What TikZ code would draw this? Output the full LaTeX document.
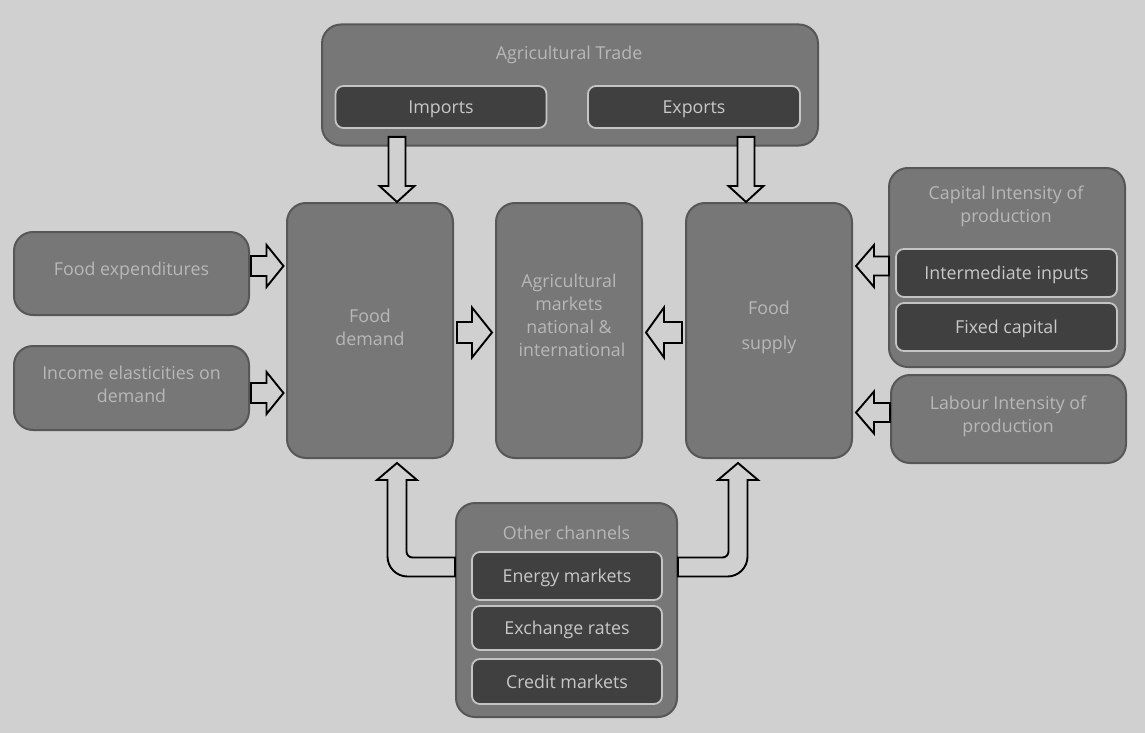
\documentclass[tikz,border=0pt]{standalone}
\usepackage{fontspec}
\setmainfont{Open Sans}
\usetikzlibrary{calc}
\definecolor{bgc}{HTML}{D0D0D0}
\definecolor{boxc}{HTML}{777777}
\definecolor{boxd}{HTML}{575757}
\definecolor{innc}{HTML}{404040}
\definecolor{innd}{HTML}{C4C4C4}
\definecolor{txo}{HTML}{B8B8B8}
\definecolor{txi}{HTML}{C8C8C8}
\newcommand\tfont{\fontsize{17.8}{23}\selectfont}
\tikzset{
 outerbox/.style={draw=boxd, line width=2pt, fill=boxc, rounded corners=19pt, inner sep=0pt},
 innerbox/.style={draw=innd, line width=1.8pt, fill=innc, rounded corners=8pt, text=txi, inner sep=0pt, font=\tfont, text height=17pt, text depth=4pt},
 lbl/.style={text=txo, align=center, inner sep=0pt, font=\tfont, yshift=-2.5pt},
 blk/.style={draw=black, line width=1.9pt, fill=bgc, line join=miter},
 barrow/.style n args={3}{to path={let \p1=(\tikztostart), \p2=(\tikztotarget),
   \n1={atan2(\y2-\y1,\x2-\x1)}, \n2={veclen(\x2-\x1,\y2-\y1)} in
   ($(\p1)+(\n1+90:#1)$) -- ($(\p1)+(\n1:\n2*1pt-#3)+(\n1+90:#1)$)
   -- ($(\p1)+(\n1:\n2*1pt-#3)+(\n1+90:#2)$) -- (\p2)
   -- ($(\p1)+(\n1:\n2*1pt-#3)+(\n1-90:#2)$)
   -- ($(\p1)+(\n1:\n2*1pt-#3)+(\n1-90:#1)$)
   -- ($(\p1)+(\n1-90:#1)$) -- cycle}},
}
\begin{document}
\begin{tikzpicture}[x=1pt,y=-1pt]
\fill[bgc] (0,0) rectangle (1145,733);
\useasboundingbox (0,0) rectangle (1145,733);

% boxes
\node[outerbox, minimum width=496pt, minimum height=121pt] (trade) at (570,85) {};
\node[innerbox, minimum width=211pt, minimum height=42pt] (imports) at (441,107) {Imports};
\node[innerbox, minimum width=212pt, minimum height=42pt] (exports) at (694,107) {Exports};

\node[outerbox, minimum width=166pt, minimum height=255pt] (demand) at (370,330.5) {};
\node[outerbox, minimum width=146pt, minimum height=255pt] (markets) at (569,330.5) {};
\node[outerbox, minimum width=166pt, minimum height=255pt] (supply) at (769,330.5) {};

\node[outerbox, minimum width=235pt, minimum height=83pt] (foodexp) at (131.5,273.5) {};
\node[outerbox, minimum width=235pt, minimum height=84pt] (income) at (131.5,388) {};

\node[outerbox, minimum width=236pt, minimum height=199pt] (capital) at (1007,267.5) {};
\node[innerbox, minimum width=221pt, minimum height=48pt] (interm) at (1006.5,273) {Intermediate inputs};
\node[innerbox, minimum width=221pt, minimum height=48pt] (fixed) at (1006.5,327) {Fixed capital};
\node[outerbox, minimum width=235pt, minimum height=88pt] (labour) at (1008.5,419) {};

\node[outerbox, minimum width=221pt, minimum height=214pt] (other) at (566.5,610) {};
\node[innerbox, minimum width=190pt, minimum height=48pt] (energy) at (567,576) {Energy markets};
\node[innerbox, minimum width=190pt, minimum height=44pt] (exchange) at (567,628) {Exchange rates};
\node[innerbox, minimum width=190pt, minimum height=45pt] (credit) at (567,681.5) {Credit markets};

% labels
\node[lbl] (tradeT) at (569,52) {Agricultural Trade};
\node[lbl] (demandT) at (370,325) {Food\\demand};
\node[lbl] (marketsT) at (569,313) {Agricultural\\markets\\national \&\\\hspace*{6pt}international};
\node[lbl, align=center] (supplyT) at (769,325) {Food\\[12pt]supply};
\node[lbl] (foodexpT) at (131.5,268) {Food expenditures};
\node[lbl] (incomeT) at (131.5,382) {Income elasticities on\\demand};
\node[lbl] (capitalT) at (1006,204) {Capital Intensity of\\production};
\node[lbl] (labourT) at (1008,413.5) {Labour Intensity of\\production};
\node[lbl] (otherT) at (566.5,530) {Other channels};

% straight block arrows
\coordinate (a1) at ($(imports.south)+(-44,8)$);
\draw[blk] (a1) to[barrow={8.5pt}{17.5pt}{16pt}] (a1 |- demand.north);
\coordinate (a2) at ($(exports.south)+(52,8)$);
\draw[blk] (a2) to[barrow={8.5pt}{17.5pt}{16pt}] (a2 |- supply.north);

\coordinate (a3) at ($(foodexp.east)+(1,-7.5)$);
\draw[blk] (a3) to[barrow={10pt}{21pt}{17pt}] ($(a3 -| demand.west)+(-2.5,0)$);
\coordinate (a4) at ($(income.east)+(1,5)$);
\draw[blk] (a4) to[barrow={10pt}{21pt}{17pt}] ($(a4 -| demand.west)+(-2.5,0)$);

\coordinate (a5) at ($(demand.east)+(3,2)$);
\draw[blk] (a5) to[barrow={10.5pt}{25pt}{20pt}] ($(a5 -| markets.west)+(-3,0)$);
\coordinate (a6) at ($(supply.west)+(-3,2)$);
\draw[blk] (a6) to[barrow={10.5pt}{25pt}{18pt}] ($(a6 -| markets.east)+(3,0)$);

\coordinate (a7) at ($(capital.west)+(1,-1.5)$);
\draw[blk] (a7) to[barrow={9.5pt}{21pt}{18pt}] ($(a7 -| supply.east)+(3,0)$);
\coordinate (a8) at ($(labour.west)+(0,-6.5)$);
\draw[blk] (a8) to[barrow={9.5pt}{21pt}{18pt}] ($(a8 -| supply.east)+(3,0)$);

% bent block arrows
\coordinate (b1) at ($(other.west)+(0,-43)$);
\coordinate (b2) at ($(demand.south)+(27,4)$);
\draw[blk] let \p1=(b1), \p2=(b2) in
  (\x1,\y1+9.5pt) -- (\x2+15.5pt,\y1+9.5pt)
  arc[start angle=270, end angle=180, radius=6pt]
  -- (\x2+9.5pt,\y2-17pt) -- (\x2+20pt,\y2-17pt) -- (\p2)
  -- (\x2-20pt,\y2-17pt) -- (\x2-9.5pt,\y2-17pt)
  -- (\x2-9.5pt,\y1+10.5pt)
  arc[start angle=180, end angle=270, radius=20pt]
  -- (\x1,\y1-9.5pt) -- cycle;

\coordinate (c1) at ($(other.east)+(0,-43)$);
\coordinate (c2) at ($(supply.south)+(-31,4)$);
\draw[blk] let \p1=(c1), \p2=(c2) in
  (\x1,\y1+9.5pt) -- (\x2-15.5pt,\y1+9.5pt)
  arc[start angle=270, end angle=360, radius=6pt]
  -- (\x2-9.5pt,\y2-17pt) -- (\x2-20pt,\y2-17pt) -- (\p2)
  -- (\x2+20pt,\y2-17pt) -- (\x2+9.5pt,\y2-17pt)
  -- (\x2+9.5pt,\y1+10.5pt)
  arc[start angle=0, end angle=-90, radius=20pt]
  -- (\x1,\y1-9.5pt) -- cycle;
\end{tikzpicture}
\end{document}
